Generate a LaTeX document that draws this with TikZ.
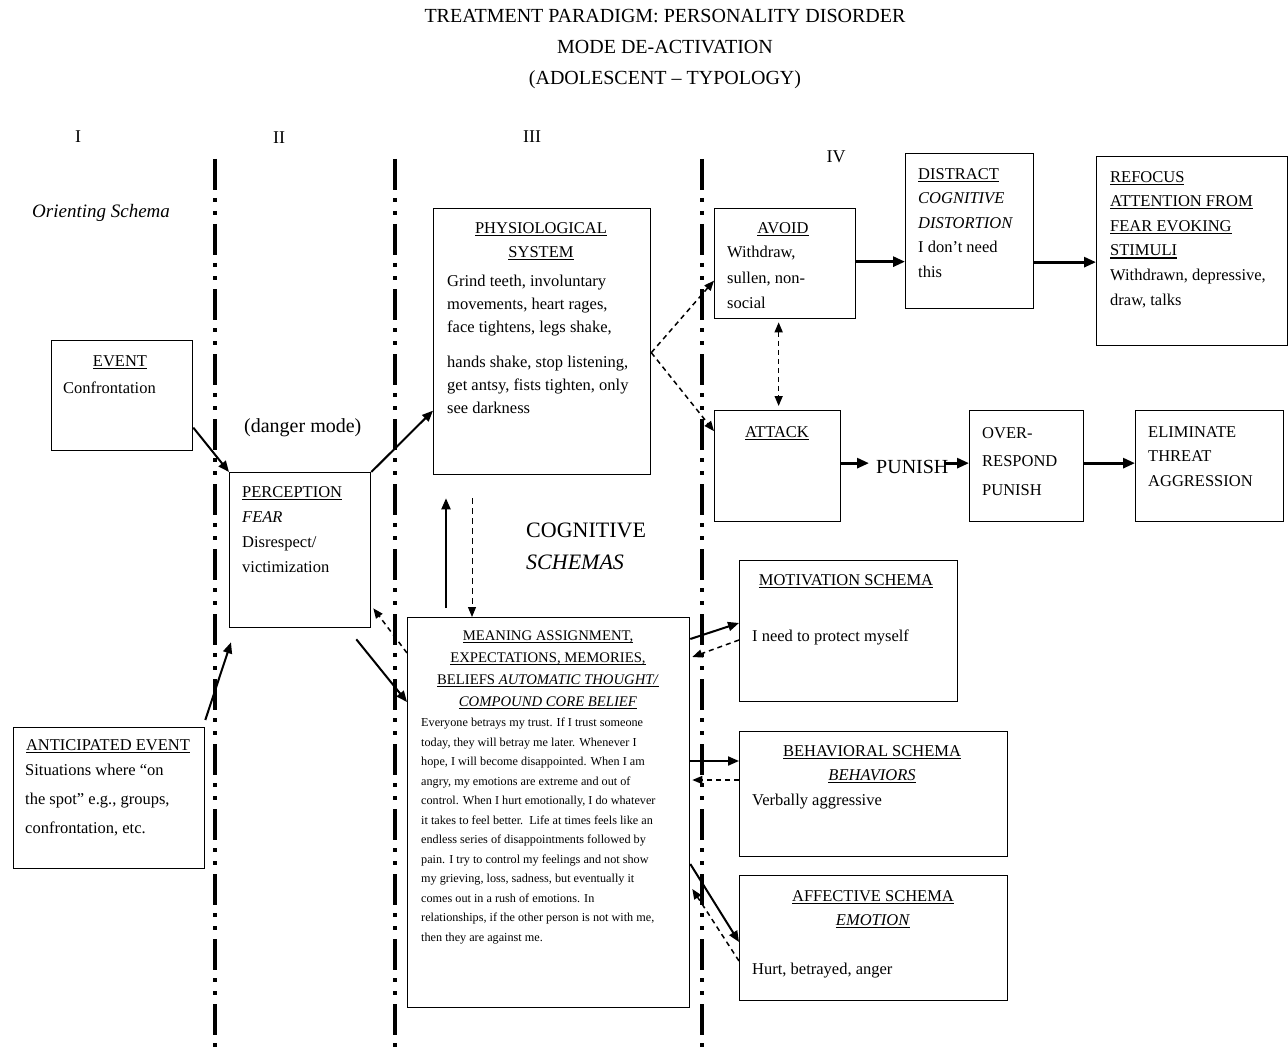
\documentclass[tikz,border=0pt]{standalone}
\usepackage{fontspec}
\setmainfont{Liberation Serif}
\newcommand{\myul}[1]{\leavevmode\setbox0\hbox{#1}\rlap{\rule[-2.6pt]{\wd0}{1.1pt}}\box0}
\usetikzlibrary{arrows.meta,calc}
\begin{document}
\begin{tikzpicture}[x=1pt,y=-1pt,
  box/.style={draw, line width=1.3pt, inner sep=0pt, anchor=north west},
  body/.style={inner sep=0pt, align=left, font=\fontsize{16.5}{23.5}\selectfont},
  head/.style={inner sep=0pt, align=center, font=\fontsize{16.5}{24}\selectfont},
  sep/.style={line width=4.5pt, dash pattern=on 31pt off 8pt on 4pt off 9pt on 4pt off 9pt},
  arr/.style={line width=2pt, -{Triangle[length=11pt,width=9pt]}},
  tarr/.style={line width=2.8pt, -{Triangle[length=12pt,width=10pt]}},
  darr/.style={line width=1.5pt, dash pattern=on 5pt off 4pt, -{Triangle[length=10pt,width=8pt]}},
  ddarr/.style={line width=1.5pt, dash pattern=on 5pt off 4pt, {Triangle[length=10pt,width=8pt]}-{Triangle[length=10pt,width=8pt]}}
]
\useasboundingbox (0,0) rectangle (1288,1051);
\fill[white] (0,0) rectangle (1288,1051);

% title and column labels
\node[inner sep=0pt, align=center, font=\fontsize{20}{31}\selectfont] (title) at (665,49)
  {TREATMENT PARADIGM: PERSONALITY DISORDER\\MODE DE-ACTIVATION\\(ADOLESCENT – TYPOLOGY)};
\node[inner sep=0pt, font=\fontsize{18}{20}\selectfont] (n1) at (78,137) {I};
\node[inner sep=0pt, font=\fontsize{18}{20}\selectfont] (n2) at (279,138) {II};
\node[inner sep=0pt, font=\fontsize{18}{20}\selectfont] (n3) at (532,137) {III};
\node[inner sep=0pt, font=\fontsize{18}{20}\selectfont] (n4) at (836,157) {IV};
\node[inner sep=0pt, anchor=west, font=\fontsize{19}{22}\selectfont\itshape] (orient) at (32,213) {Orienting Schema};
\node[inner sep=0pt, anchor=west, font=\fontsize{20}{22}\selectfont] (danger) at (244,428) {(danger mode)};
\node[inner sep=0pt, anchor=west, align=left, font=\fontsize{22}{32}\selectfont] (cog) at (526,546) {COGNITIVE\\\textit{SCHEMAS}};

% separators
\foreach \x in {215,395,702} \draw[sep] (\x,159) -- (\x,1051);

% boxes
\node[box, minimum width=141pt, minimum height=110pt] (event) at (51,340) {};
\node[box, minimum width=141pt, minimum height=155pt] (perc) at (229,472) {};
\node[box, minimum width=191pt, minimum height=141pt] (antic) at (13,727) {};
\node[box, minimum width=217pt, minimum height=266pt] (physio) at (433,208) {};
\node[box, minimum width=282pt, minimum height=390pt] (meaning) at (407,617) {};
\node[box, minimum width=141pt, minimum height=110pt] (avoid) at (714,208) {};
\node[box, minimum width=128pt, minimum height=155pt] (distract) at (905,153) {};
\node[box, minimum width=191pt, minimum height=189pt] (refocus) at (1096,156) {};
\node[box, minimum width=126pt, minimum height=111pt] (attack) at (714,410) {};
\node[box, minimum width=114pt, minimum height=111pt] (over) at (969,410) {};
\node[box, minimum width=148pt, minimum height=111pt] (elim) at (1135,410) {};
\node[box, minimum width=218pt, minimum height=141pt] (motiv) at (739,560) {};
\node[box, minimum width=268pt, minimum height=125pt] (behav) at (739,731) {};
\node[box, minimum width=268pt, minimum height=125pt] (affect) at (739,875) {};

% box texts
\node[head] (eventH) at (120,362) {\myul{EVENT}};
\node[body, anchor=west] (eventB) at (63,388) {Confrontation};
\node[body, anchor=west, font=\fontsize{16.5}{25}\selectfont] (percT) at (242,530)
  {\myul{PERCEPTION}\\\textit{FEAR}\\Disrespect/\\victimization};
\node[head] (anticH) at (108,746) {\myul{ANTICIPATED EVENT}};
\node[body, anchor=west, font=\fontsize{16.5}{29}\selectfont] (anticB) at (25,800)
  {Situations where “on\\the spot” e.g., groups,\\confrontation, etc.};
\node[head] (physioH) at (541,241) {\myul{PHYSIOLOGICAL}\\\myul{SYSTEM}};
\node[body, anchor=west, font=\fontsize{16.5}{23}\selectfont] (physioB) at (447,344)
  {Grind teeth, involuntary\\movements, heart rages,\\face tightens, legs shake,\\[12pt]hands shake, stop listening,\\get antsy, fists tighten, only\\see darkness};
\node[head, font=\fontsize{14.7}{22}\selectfont] (meaningH) at (548,670)
  {\myul{MEANING ASSIGNMENT,}\\\myul{EXPECTATIONS, MEMORIES,}\\\myul{BELIEFS \textit{AUTOMATIC THOUGHT/}}\\\myul{\textit{COMPOUND CORE BELIEF}}};
\node[body, anchor=west, font=\fontsize{12.2}{19.5}\selectfont] (meaningB) at (421,831)
  {Everyone betrays my trust. If I trust someone\\today, they will betray me later. Whenever I\\hope, I will become disappointed. When I am\\angry, my emotions are extreme and out of\\control. When I hurt emotionally, I do whatever\\it takes to feel better.\ \ Life at times feels like an\\endless series of disappointments followed by\\pain. I try to control my feelings and not show\\my grieving, loss, sadness, but eventually it\\comes out in a rush of emotions. In\\relationships, if the other person is not with me,\\then they are against me.};
\node[head] (avoidH) at (783,229) {\myul{AVOID}};
\node[body, anchor=west, font=\fontsize{16.5}{25.5}\selectfont] (avoidB) at (727,277.5) {Withdraw,\\sullen, non-\\social};
\node[body, anchor=west, font=\fontsize{16.5}{24.5}\selectfont] (distractT) at (918,223)
  {\myul{DISTRACT}\\\textit{COGNITIVE}\\\textit{DISTORTION}\\I don’t need\\this};
\node[body, anchor=west, font=\fontsize{16.5}{24.6}\selectfont] (refocusT) at (1110,239.5)
  {\myul{REFOCUS}\\\myul{ATTENTION FROM}\\\myul{FEAR EVOKING}\\\myul{STIMULI}\\Withdrawn, depressive,\\draw, talks};
\node[head] (attackH) at (777,433) {\myul{ATTACK}};
\node[inner sep=0pt, anchor=west, font=\fontsize{20}{22}\selectfont] (punish) at (876,467) {PUNISH};
\node[body, anchor=west, font=\fontsize{16.5}{28.5}\selectfont] (overT) at (982,461.5) {OVER-\\RESPOND\\PUNISH};
\node[body, anchor=west, font=\fontsize{16.5}{24.5}\selectfont] (elimT) at (1148,456.5) {ELIMINATE\\THREAT\\AGGRESSION};
\node[head] (motivH) at (846,581) {\myul{MOTIVATION SCHEMA}};
\node[body, anchor=west] (motivB) at (752,637) {I need to protect myself};
\node[head] (behavH) at (872,764) {\myul{BEHAVIORAL SCHEMA}\\\myul{\textit{BEHAVIORS}}};
\node[body, anchor=west] (behavB) at (752,802) {Verbally aggressive};
\node[head] (affectH) at (873,909) {\myul{AFFECTIVE SCHEMA}\\\myul{\textit{EMOTION}}};
\node[body, anchor=west] (affectB) at (752,971) {Hurt, betrayed, anger};

% connectors
\draw[arr] ([yshift=-32pt]event.east) -- (perc.north west);
\draw[arr] (perc.north east) -- ([yshift=-69pt]physio.west);
\draw[arr] ([yshift=7pt]antic.north east) -- ([xshift=2pt,yshift=-14pt]perc.south west);
\draw[arr] ([xshift=-15pt,yshift=-11pt]perc.south east) -- ([yshift=-85pt]meaning.north west);
\draw[darr] ([yshift=-36pt]meaning.north west) -- ([xshift=2pt,yshift=20pt]perc.south east);
\draw[arr] ([xshift=39pt,yshift=9pt]meaning.north west) -- ([xshift=13pt,yshift=-23pt]physio.south west);
\draw[line width=1pt, dash pattern=on 6pt off 4pt, -{Triangle[length=10pt,width=8pt]}]
  ([xshift=39pt,yshift=-23pt]physio.south west) -- ([xshift=65pt]meaning.north west);
\draw[darr] ([yshift=-11pt]physio.east) -- ([yshift=-17pt]avoid.west);
\draw[darr] ([yshift=-11pt]physio.east) -- ([yshift=35pt]attack.west);
\draw[ddarr] ([xshift=-6.5pt,yshift=-3pt]avoid.south) -- ([xshift=1pt,yshift=4pt]attack.north);
\draw[tarr] ([yshift=2pt]avoid.east) -- ([yshift=2pt]avoid.east -| distract.west);
\draw[tarr] ([yshift=-31pt]distract.east) -- ([yshift=-31pt]distract.east -| refocus.west);
\draw[tarr] ([yshift=3pt]attack.east) -- ($([yshift=3pt]attack.east -| punish.west)+(-7,0)$);
\draw[tarr] ($([yshift=3pt]over.west -| punish.east)+(-5,0)$) -- ([yshift=3pt]over.west);
\draw[tarr] ([yshift=3pt]over.east) -- ([yshift=3pt]elim.west);
\draw[arr] ([yshift=-22pt]meaning.north east) -- ([yshift=-63pt]motiv.north west);
\draw[darr] ([yshift=-80pt]motiv.north west) -- ([xshift=2pt,yshift=-40pt]meaning.north east);
\draw[arr] ([yshift=-144pt]meaning.north east) -- ([yshift=-30pt]behav.north west);
\draw[darr] ([yshift=-49pt]behav.north west) -- ([xshift=2pt,yshift=-163pt]meaning.north east);
\draw[arr] ([yshift=-247pt]meaning.north east) -- ([yshift=-67pt]affect.north west);
\draw[darr] ([yshift=-86pt]affect.north west) -- ([xshift=2pt,yshift=-272pt]meaning.north east);
\end{tikzpicture}
\end{document}
